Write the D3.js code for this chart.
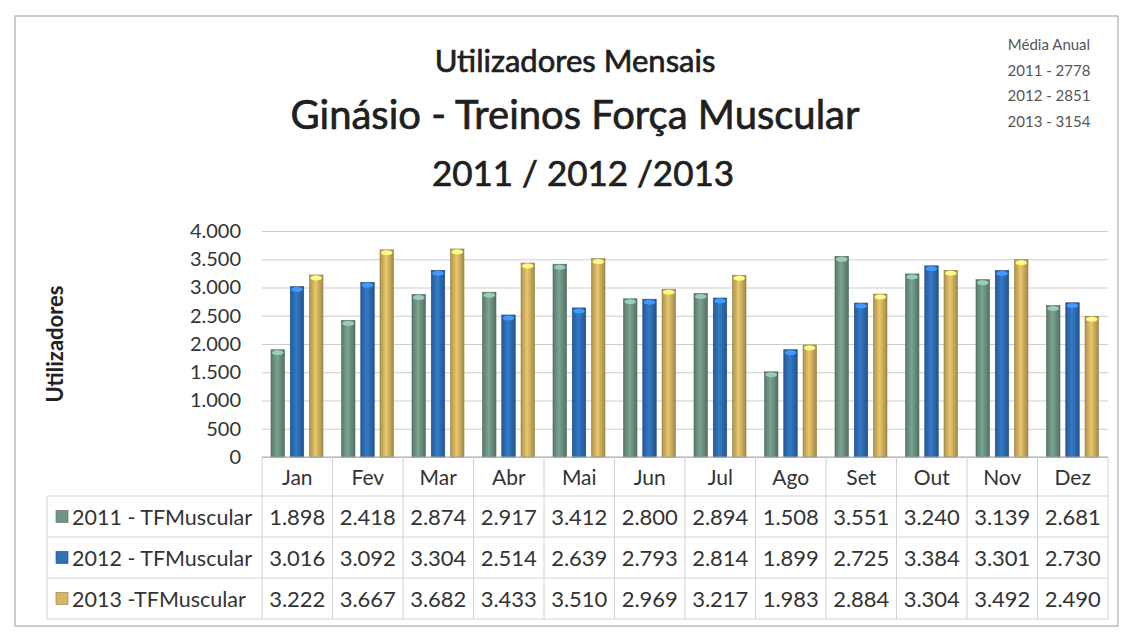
<!DOCTYPE html>
<html>
<head>
<meta charset="utf-8">
<script src="https://cdn.jsdelivr.net/npm/d3@7"></script>
<style>
  body { margin: 0; background: #fff; }
  svg { display: block; font-family: Lato, 'Open Sans', sans-serif; }
</style>
</head>
<body>
<script>
const months = ['Jan', 'Fev', 'Mar', 'Abr', 'Mai', 'Jun', 'Jul', 'Ago', 'Set', 'Out', 'Nov', 'Dez']
const seriesNames = ['2011 - TFMuscular', '2012 - TFMuscular', '2013 -TFMuscular']
const values2011 = [1898, 2418, 2874, 2917, 3412, 2800, 2894, 1508, 3551, 3240, 3139, 2681]
const values2012 = [3016, 3092, 3304, 2514, 2639, 2793, 2814, 1899, 2725, 3384, 3301, 2730]
const values2013 = [3222, 3667, 3682, 3433, 3510, 2969, 3217, 1983, 2884, 3304, 3492, 2490]
const yTicks = [0, 500, 1000, 1500, 2000, 2500, 3000, 3500, 4000]
const averageLines = ['Média Anual', '2011 - 2778', '2012 - 2851', '2013 - 3154']
const colors = ['#6f9684', '#2f70b8', '#d6b662']

const allValues = [values2011, values2012, values2013]

const width = 1126
const height = 634
const plot = { left: 262, right: 1108, top: 231, bottom: 457 }
const rowH = 41
const headerH = 39
const legendLeft = 47

const locale = d3.formatLocale({ decimal: ',', thousands: '.', grouping: [3], currency: ['', ''] })
const fmt = locale.format(',d')

const svg = d3.select('body').append('svg')
  .attr('width', width)
  .attr('height', height)

// bar gradients (cylinder look)
const defs = svg.append('defs')
colors.forEach((c, i) => {
  const g = defs.append('linearGradient').attr('id', 'grad' + i)
    .attr('x1', '0%').attr('x2', '100%').attr('y1', '0%').attr('y2', '0%')
  const base = d3.color(c)
  g.append('stop').attr('offset', '0%').attr('stop-color', base.darker(0.6))
  g.append('stop').attr('offset', '45%').attr('stop-color', base.brighter(0.25))
  g.append('stop').attr('offset', '100%').attr('stop-color', base.darker(0.8))
})

// outer frame
svg.append('rect')
  .attr('x', 15).attr('y', 16)
  .attr('width', 1103).attr('height', 610)
  .attr('fill', 'none').attr('stroke', '#9a9a9a').attr('stroke-width', 1)

// titles (regular weight, thickened a little like the scan)
const titles = [
  { text: 'Utilizadores Mensais', x: 575, y: 72, size: 31 },
  { text: 'Ginásio - Treinos Força Muscular', x: 575, y: 129, size: 40 },
  { text: '2011 / 2012 /2013', x: 583, y: 186, size: 35 }
]
svg.append('g').selectAll('text')
  .data(titles)
  .join('text')
  .attr('x', (d) => d.x).attr('y', (d) => d.y)
  .attr('text-anchor', 'middle')
  .attr('font-size', (d) => d.size)
  .attr('fill', '#1f1f1f')
  .attr('stroke', '#1f1f1f').attr('stroke-width', 0.7)
  .text((d) => d.text)

svg.append('g').selectAll('text')
  .data(averageLines)
  .join('text')
  .attr('x', 1049)
  .attr('y', (d, i) => 50 + i * 25.5)
  .attr('text-anchor', 'middle')
  .attr('font-size', 15)
  .attr('fill', '#555')
  .text((d) => d)

// scales
const x0 = d3.scaleBand().domain(months).range([plot.left, plot.right])
const x1 = d3.scaleBand().domain(d3.range(3)).range([9, 61]).paddingInner(0.3)
const y = d3.scaleLinear().domain([0, 4000]).range([plot.bottom, plot.top])

// gridlines
svg.append('g')
  .attr('transform', `translate(${plot.left},0)`)
  .call(d3.axisLeft(y).tickValues(yTicks).tickSize(-(plot.right - plot.left)).tickFormat(''))
  .call((g) => g.select('.domain').remove())
  .call((g) => g.selectAll('line').attr('stroke', '#cdcdcd'))

// y axis labels
svg.append('g')
  .attr('transform', `translate(${plot.left - 18},0)`)
  .call(d3.axisLeft(y).tickValues(yTicks).tickSize(0).tickFormat(fmt))
  .call((g) => g.select('.domain').remove())
  .call((g) => g.selectAll('text')
    .attr('font-size', 20).attr('fill', '#333')
    .attr('font-family', 'Lato, sans-serif'))

svg.append('text')
  .attr('transform', `translate(63, ${(plot.top + plot.bottom) / 2}) rotate(-90)`)
  .attr('text-anchor', 'middle')
  .attr('font-size', 22).attr('font-weight', 'bold').attr('fill', '#222')
  .text('Utilizadores')

// bars
const groups = svg.append('g').selectAll('g')
  .data(months)
  .join('g')
  .attr('transform', (d) => `translate(${x0(d)},0)`)

groups.selectAll('rect')
  .data((d, mi) => allValues.map((vals, si) => ({ si, v: vals[mi] })))
  .join('rect')
  .attr('x', (d) => x1(d.si))
  .attr('y', (d) => y(d.v))
  .attr('width', x1.bandwidth())
  .attr('height', (d) => y(0) - y(d.v))
  .attr('fill', (d) => `url(#grad${d.si})`)
  .attr('stroke', (d) => d3.color(colors[d.si]).darker(1))
  .attr('stroke-width', 0.6)

groups.selectAll('ellipse')
  .data((d, mi) => allValues.map((vals, si) => ({ si, v: vals[mi] })))
  .join('ellipse')
  .attr('cx', (d) => x1(d.si) + x1.bandwidth() / 2)
  .attr('cy', (d) => y(d.v) + 3)
  .attr('rx', x1.bandwidth() / 2 - 1)
  .attr('ry', 2.5)
  .attr('fill', (d) => d3.color(colors[d.si]).brighter(0.9))

// data table
const tableTop = plot.bottom
const tableBottom = tableTop + headerH + rowH * 3
const grid = svg.append('g').attr('stroke', '#d2d2d2').attr('stroke-width', 1)

// baseline of the plot
grid.append('line')
  .attr('x1', plot.left).attr('x2', plot.right)
  .attr('y1', plot.bottom).attr('y2', plot.bottom)
  .attr('stroke', '#aaa')

// vertical lines between months
grid.selectAll('line.v')
  .data(months.concat(['end']))
  .join('line')
  .attr('class', 'v')
  .attr('x1', (d) => d === 'end' ? plot.right : x0(d))
  .attr('x2', (d) => d === 'end' ? plot.right : x0(d))
  .attr('y1', tableTop).attr('y2', tableBottom)

// horizontal lines
grid.selectAll('line.h')
  .data(d3.range(4))
  .join('line')
  .attr('class', 'h')
  .attr('x1', legendLeft).attr('x2', plot.right)
  .attr('y1', (d) => tableTop + headerH + d * rowH)
  .attr('y2', (d) => tableTop + headerH + d * rowH)

grid.append('line')
  .attr('x1', legendLeft).attr('x2', legendLeft)
  .attr('y1', tableTop + headerH).attr('y2', tableBottom)

// month labels
svg.append('g').selectAll('text')
  .data(months)
  .join('text')
  .attr('x', (d) => x0(d) + x0.bandwidth() / 2)
  .attr('y', tableTop + headerH / 2 + 8)
  .attr('text-anchor', 'middle')
  .attr('font-size', 21).attr('fill', '#333')
  .text((d) => d)

// rows
const rows = svg.append('g').selectAll('g')
  .data(seriesNames)
  .join('g')
  .attr('transform', (d, i) => `translate(0,${tableTop + headerH + i * rowH})`)

rows.append('rect')
  .attr('x', legendLeft + 9).attr('y', rowH / 2 - 6)
  .attr('width', 12).attr('height', 12)
  .attr('fill', (d, i) => colors[i])
  .attr('stroke', (d, i) => d3.color(colors[i]).darker(1)).attr('stroke-width', 0.6)

rows.append('text')
  .attr('x', legendLeft + 25).attr('y', rowH / 2 + 8)
  .attr('font-size', 21.5).attr('fill', '#333')
  .text((d) => d)

rows.selectAll('text.val')
  .data((d, i) => allValues[i])
  .join('text')
  .attr('class', 'val')
  .attr('x', (d, mi) => x0(months[mi]) + x0.bandwidth() / 2)
  .attr('y', rowH / 2 + 8)
  .attr('text-anchor', 'middle')
  .attr('font-size', 22).attr('fill', '#333')
  .text((d) => fmt(d))
</script>
</body>
</html>
